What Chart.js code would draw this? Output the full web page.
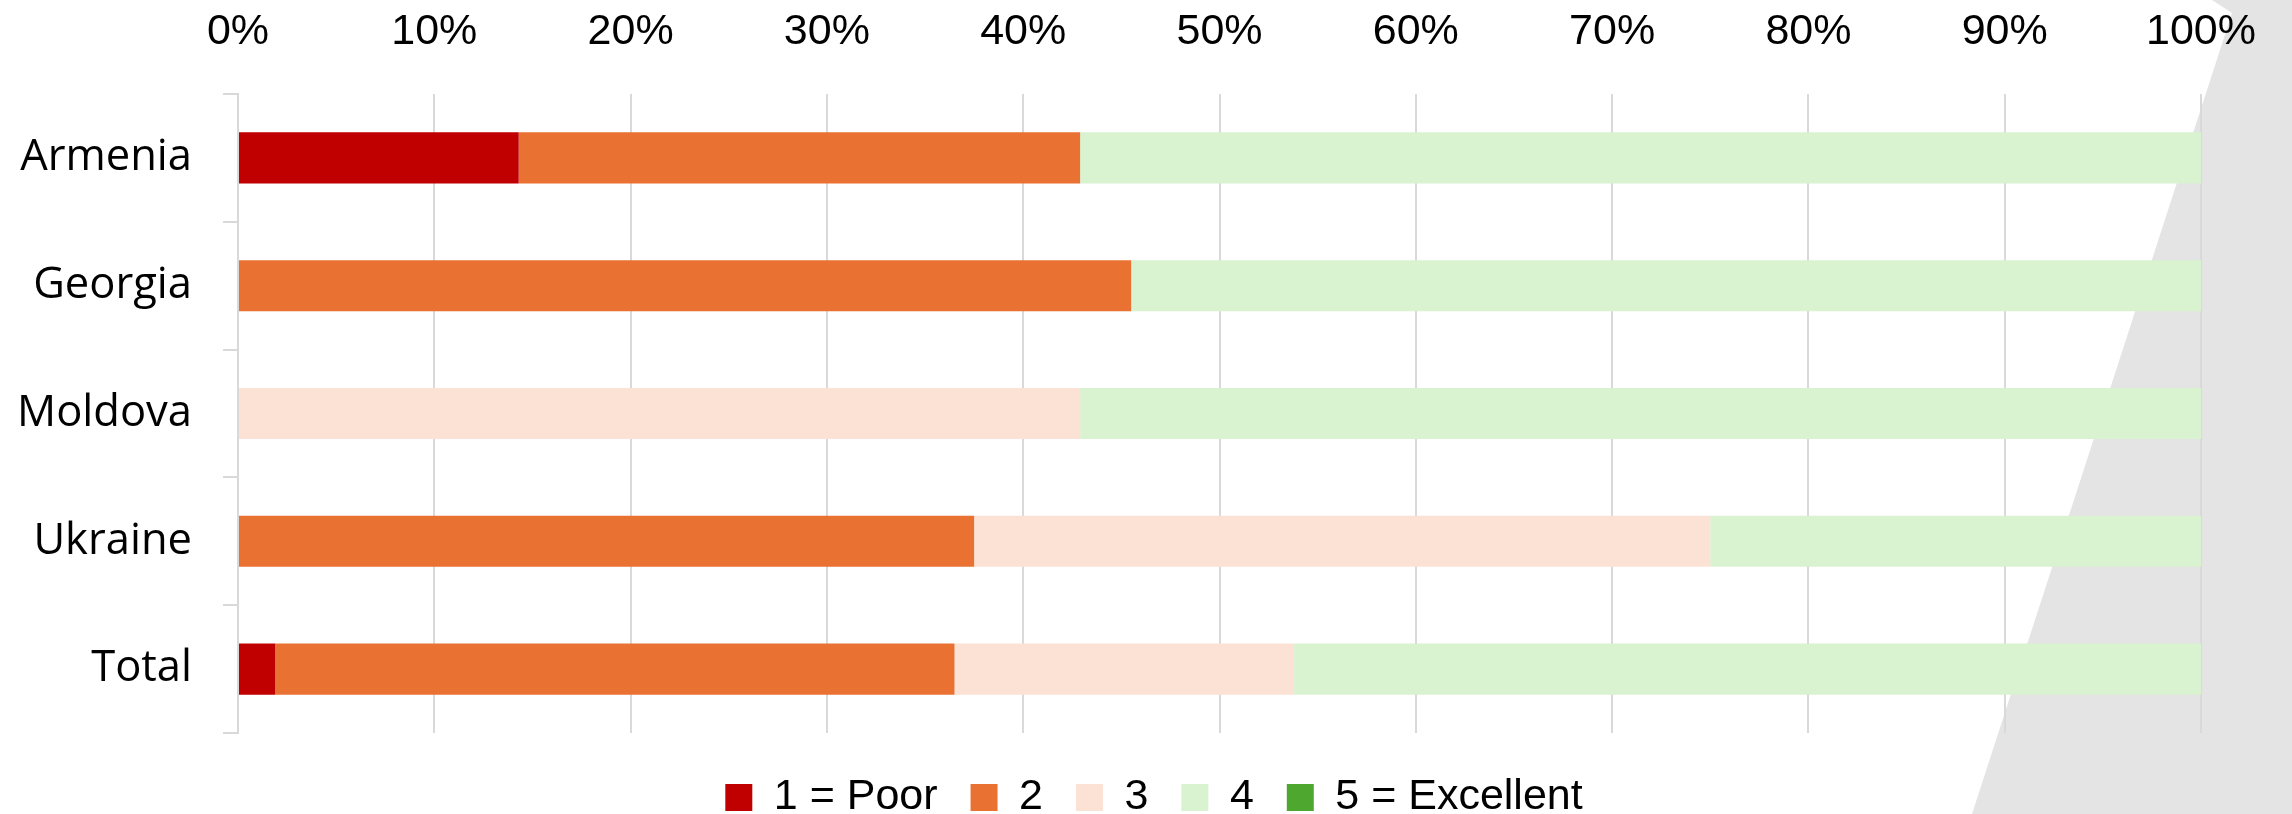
<!DOCTYPE html>
<html>
<head>
<meta charset="utf-8">
<script src="https://cdn.jsdelivr.net/npm/chart.js@4/dist/chart.umd.min.js"></script>
<style>
  html, body { margin: 0; padding: 0; background: #fff; }
  #wrap { width: 2292px; height: 814px; position: relative; }
</style>
</head>
<body>
<div id="wrap"><canvas id="ratings"></canvas></div>
<script>
const countries = ['Armenia', 'Georgia', 'Moldova', 'Ukraine', 'Total']
const seriesNames = ['1 = Poor', '2', '3', '4', '5 = Excellent']
const seriesColors = ['#C00000', '#E97132', '#FBE2D5', '#D9F2D0', '#4EA72E']

// share of answers per rating, in percent
const poor = [14.3, 0, 0, 0, 1.9]
const two = [28.6, 45.5, 0, 37.5, 34.6]
const three = [0, 0, 42.9, 37.5, 17.3]
const four = [57.1, 54.5, 57.1, 25, 46.2]
const excellent = [0, 0, 0, 0, 0]

const xTicks = [0, 10, 20, 30, 40, 50, 60, 70, 80, 90, 100]

const seriesValues = [poor, two, three, four, excellent]

// grey slanted panel behind the chart
const backdrop = {
  id: 'backdrop',
  beforeDraw(chart) {
    const ctx = chart.ctx
    const w = chart.width
    const h = chart.height
    ctx.save()
    ctx.fillStyle = '#E4E4E4'
    ctx.beginPath()
    ctx.moveTo(w - 80, 0)
    ctx.lineTo(w - 60, 13)
    ctx.lineTo(w - 320, h)
    ctx.lineTo(w, h)
    ctx.lineTo(w, 0)
    ctx.closePath()
    ctx.fill()
    ctx.restore()
  }
}

Chart.defaults.font.family = "'Liberation Sans', Arial, sans-serif"
Chart.defaults.font.size = 43
Chart.defaults.color = '#000'

const dataRatings = {
  labels: countries,
  datasets: seriesNames.map((name, i) => ({
    label: name,
    data: seriesValues[i],
    backgroundColor: seriesColors[i],
    borderWidth: 0,
    categoryPercentage: 1,
    barPercentage: 0.4
  }))
}

// empty axes only used as spacers around the plot
const spacer = (pos, size) => ({
  position: pos,
  display: true,
  afterFit: (axis) => {
    if (axis.isHorizontal()) axis.height = size
    else axis.width = size
  },
  ticks: { display: false },
  grid: { display: false },
  border: { display: false }
})

const configRatings = {
  type: 'bar',
  data: dataRatings,
  options: {
    indexAxis: 'y',
    responsive: true,
    maintainAspectRatio: false,
    animation: false,
    layout: { padding: { left: 16, right: 0, top: 0, bottom: -15 } },
    scales: {
      x: {
        position: 'top',
        stacked: true,
        min: 0,
        max: 100,
        afterBuildTicks: (axis) => { axis.ticks = xTicks.map(v => ({ value: v })) },
        afterFit: (axis) => { axis.height = 94 },
        ticks: {
          padding: 36,
          callback: (v) => v + '%'
        },
        grid: { color: '#D9D9D9', lineWidth: 2, drawTicks: false },
        border: { display: false }
      },
      y: {
        stacked: true,
        afterFit: (axis) => { axis.width = 222 },
        ticks: {
          padding: 31,
          font: { family: "'Open Sans', sans-serif", size: 43.5 }
        },
        grid: {
          drawOnChartArea: false,
          drawTicks: true,
          tickLength: 15,
          color: '#D9D9D9',
          lineWidth: 2
        },
        border: { display: true, color: '#D9D9D9', width: 2 }
      },
      yRight: spacer('right', 68),
      xBottom: Object.assign({ type: 'linear' }, spacer('bottom', 10))
    },
    plugins: {
      legend: {
        position: 'bottom',
        labels: {
          boxWidth: 27,
          boxHeight: 27,
          padding: 33
        }
      },
      tooltip: { enabled: false }
    }
  },
  plugins: [backdrop]
}

const myChartRatings = new Chart(
  document.getElementById('ratings'),
  configRatings
)
</script>
</body>
</html>
